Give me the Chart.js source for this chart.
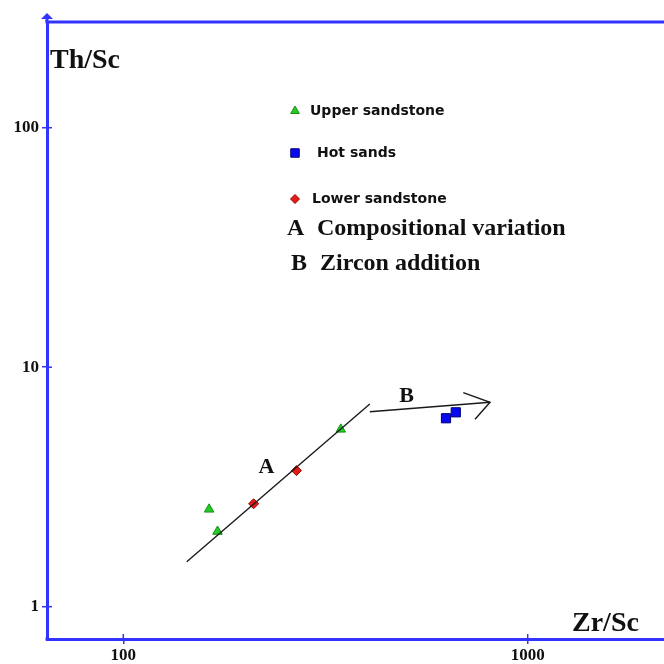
<!DOCTYPE html>
<html>
<head>
<meta charset="utf-8">
<script src="https://cdn.jsdelivr.net/npm/chart.js@4.4.1/dist/chart.umd.min.js"></script>
<style>
  html, body { margin: 0; padding: 0; background: #fff; overflow: hidden; }
  #wrap { width: 664px; height: 664px; position: relative; }
  canvas { display: block; }
</style>
</head>
<body>
<div id="wrap"><canvas id="c" width="664" height="664"></canvas></div>
<script>
// Zr/Sc against Th/Sc for the three sand groups
const upperZr = [163, 171, 345];
const upperTh = [2.55, 2.06, 5.5];
const hotZr = [628, 664];
const hotTh = [6.12, 6.48];
const lowerZr = [210, 268];
const lowerTh = [2.69, 3.70];

// trend A: compositional variation
const trendAZr = [143.5, 407];
const trendATh = [1.54, 7.02];
// trend B: zircon addition, with its arrow head (barb, tip, barb)
const trendBZr = [407, 807];
const trendBTh = [6.52, 7.135];
const headZr = [693, 807, 741];
const headTh = [7.83, 7.135, 6.06];

// where the trend letters sit
const letterZr = [226, 502];
const letterTh = [3.82, 7.53];
const letters = ['A', 'B'];

const xTicks = [100, 1000];
const yTicks = [1, 10, 100];
const seriesNames = ['Upper sandstone', 'Hot sands', 'Lower sandstone'];
const notes = [['A', 'Compositional variation'], ['B', 'Zircon addition']];

const blue = '#3333ff';
const serif = 'Liberation Serif, Times New Roman, serif';
const sans = 'DejaVu Sans, Verdana, sans-serif';

const pts = (xs, ys) => xs.map((x, i) => ({ x, y: ys[i] }));

const trendStyle = {
  showLine: true, pointRadius: 0, borderColor: '#1a1a1a', borderWidth: 1.4,
  backgroundColor: '#1a1a1a', fill: false, tension: 0
};

const decor = {
  id: 'decor',
  afterDraw(chart) {
    const { ctx, chartArea: a, scales: { x, y } } = chart;
    ctx.save();

    // top frame line and the arrow at the top of the vertical axis
    ctx.strokeStyle = blue;
    ctx.fillStyle = blue;
    ctx.lineWidth = 3;
    ctx.beginPath();
    ctx.moveTo(a.left - 1.5, a.top);
    ctx.lineTo(a.right, a.top);
    ctx.stroke();
    ctx.beginPath();
    ctx.moveTo(a.left, a.top);
    ctx.lineTo(a.left, a.top - 4);
    ctx.stroke();
    ctx.beginPath();
    ctx.moveTo(a.left, a.top - 9);
    ctx.lineTo(a.left + 6, a.top - 3);
    ctx.lineTo(a.left - 6, a.top - 3);
    ctx.closePath();
    ctx.fill();
    // square corner
    ctx.fillRect(a.left - 1.5, a.bottom - 1.5, 3, 3);

    // inner halves of the tick marks
    ctx.lineWidth = 1.5;
    xTicks.forEach(v => {
      const p = x.getPixelForValue(v);
      ctx.beginPath(); ctx.moveTo(p, a.bottom); ctx.lineTo(p, a.bottom - 5); ctx.stroke();
    });
    yTicks.forEach(v => {
      const p = y.getPixelForValue(v);
      ctx.beginPath(); ctx.moveTo(a.left, p); ctx.lineTo(a.left + 5, p); ctx.stroke();
    });

    // axis titles
    ctx.fillStyle = '#111';
    ctx.textBaseline = 'middle';
    ctx.textAlign = 'left';
    ctx.font = 'bold 28px ' + serif;
    ctx.fillText('Th/Sc', 50, 61);
    ctx.fillText('Zr/Sc', 572, 624);

    // legend built from the marker datasets
    const rows = [
      { ds: 3, y: 111, tx: 310 },
      { ds: 4, y: 153, tx: 317 },
      { ds: 5, y: 199, tx: 312 }
    ];
    ctx.font = 'bold 14px ' + sans;
    rows.forEach((r, i) => {
      const d = chart.data.datasets[r.ds];
      ctx.save();
      ctx.fillStyle = d.backgroundColor;
      ctx.strokeStyle = d.borderColor;
      ctx.lineWidth = d.borderWidth;
      Chart.helpers.drawPoint(ctx, {
        pointStyle: d.pointStyle,
        radius: d.legendRadius,
        rotation: 0,
        borderWidth: d.borderWidth
      }, 295, r.y);
      ctx.restore();
      ctx.fillStyle = '#111';
      ctx.fillText(seriesNames[i], r.tx, r.y);
    });

    // trend notes
    ctx.font = 'bold 24px ' + serif;
    ctx.fillText(notes[0][0], 287, 229);
    ctx.fillText(notes[0][1], 317, 229);
    ctx.fillText(notes[1][0], 291, 264);
    ctx.fillText(notes[1][1], 320, 264);

    // letters on the trends
    ctx.font = 'bold 22px ' + serif;
    ctx.textAlign = 'center';
    letters.forEach((t, i) => {
      ctx.fillText(t, x.getPixelForValue(letterZr[i]), y.getPixelForValue(letterTh[i]));
    });

    ctx.restore();
  }
};

new Chart(document.getElementById('c'), {
  type: 'scatter',
  data: {
    datasets: [
      { label: 'A', data: pts(trendAZr, trendATh), ...trendStyle },
      { label: 'B', data: pts(trendBZr, trendBTh), ...trendStyle },
      { label: 'B head', data: pts(headZr, headTh), ...trendStyle },
      {
        label: seriesNames[0], data: pts(upperZr, upperTh),
        pointStyle: 'triangle', pointRadius: 5.5, legendRadius: 5,
        backgroundColor: '#22cc22', borderColor: '#178f17', borderWidth: 1
      },
      {
        label: seriesNames[1], data: pts(hotZr, hotTh),
        pointStyle: 'rect', pointRadius: 6.5, legendRadius: 6,
        backgroundColor: '#0a0aee', borderColor: '#00007a', borderWidth: 1
      },
      {
        label: seriesNames[2], data: pts(lowerZr, lowerTh),
        pointStyle: 'rectRot', pointRadius: 5, legendRadius: 4.5,
        backgroundColor: '#e31a1a', borderColor: '#9a0000', borderWidth: 1
      }
    ]
  },
  options: {
    responsive: false,
    maintainAspectRatio: false,
    animation: false,
    devicePixelRatio: 1,
    layout: { autoPadding: false, padding: { top: 22, left: 0, right: 0, bottom: 0 } },
    plugins: { legend: { display: false }, tooltip: { enabled: false } },
    scales: {
      x: {
        type: 'logarithmic', position: 'bottom', bounds: 'data', min: 64.76, max: 2173,
        afterFit: s => { s.height = 25; },
        afterBuildTicks: s => { s.ticks = xTicks.map(v => ({ value: v })); },
        ticks: {
          callback: v => String(v), color: '#111', padding: 1,
          maxRotation: 0, autoSkip: false,
          font: { family: serif, size: 17, weight: 'bold' }
        },
        grid: { display: true, drawOnChartArea: false, drawTicks: true, tickLength: 5, color: blue, lineWidth: 1.5 },
        border: { display: true, color: blue, width: 3 }
      },
      y: {
        type: 'logarithmic', position: 'left', bounds: 'data', min: 0.7329, max: 276.3,
        afterFit: s => { s.width = 47; },
        afterBuildTicks: s => { s.ticks = yTicks.map(v => ({ value: v })); },
        ticks: {
          callback: v => String(v), color: '#111', padding: 3,
          autoSkip: false,
          font: { family: serif, size: 17, weight: 'bold' }
        },
        grid: { display: true, drawOnChartArea: false, drawTicks: true, tickLength: 5, color: blue, lineWidth: 1.5 },
        border: { display: true, color: blue, width: 3 }
      }
    }
  },
  plugins: [decor]
});
</script>
</body>
</html>
